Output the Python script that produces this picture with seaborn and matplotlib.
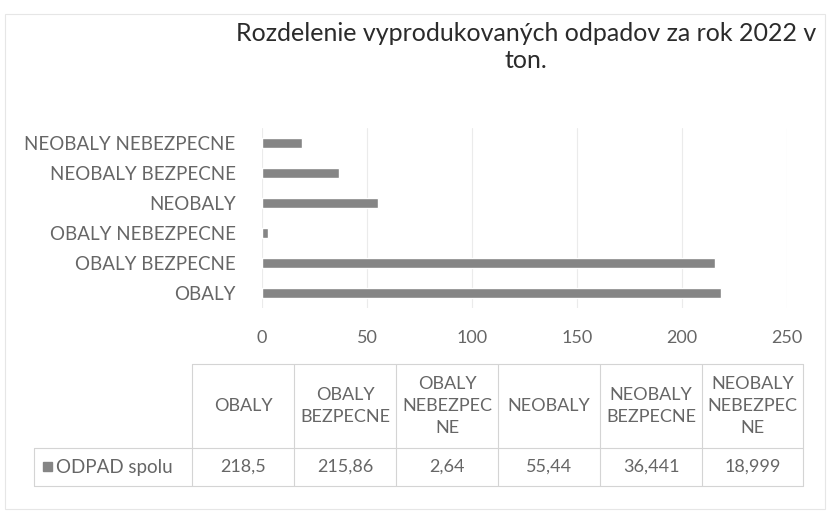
import matplotlib
matplotlib.use("Agg")
import matplotlib.pyplot as plt
from matplotlib.lines import Line2D
from matplotlib.patches import Rectangle
import pandas as pd
import seaborn as sns

# data
categories = ['OBALY', 'OBALY BEZPECNE', 'OBALY NEBEZPECNE', 'NEOBALY',
              'NEOBALY BEZPECNE', 'NEOBALY NEBEZPECNE']
values = [218.5, 215.86, 2.64, 55.44, 36.441, 18.999]
table_headers = ['OBALY', 'OBALY\nBEZPECNE', 'OBALY\nNEBEZPEC\nNE', 'NEOBALY',
                 'NEOBALY\nBEZPECNE', 'NEOBALY\nNEBEZPEC\nNE']
series_name = 'ODPAD spolu'
title = 'Rozdelenie vyprodukovaných odpadov za rok 2022 v\nton.'
x_ticks = [0, 50, 100, 150, 200, 250]

sns.set_style('white')
plt.rcParams['font.family'] = ['Lato', 'DejaVu Sans']

W, H = 827, 514
fig = plt.figure(figsize=(W / 100, H / 100), dpi=100)

def fx(x):
    return x / W

def fy(y):
    return 1 - y / H

bar_color = '#858585'
text_color = '#666666'
line_color = '#d4d4d4'

df = pd.DataFrame({'cat': categories, 'val': values})

ax = fig.add_axes([fx(262), fy(308), fx(787) - fx(262), fy(128) - fy(308)])
sns.barplot(data=df, x='val', y='cat', order=categories[::-1], orient='h',
            color=bar_color, width=0.34, saturation=1, ax=ax)
ax.set_xlim(0, 250)
ax.set_xticks(x_ticks)
ax.set_xlabel('')
ax.set_ylabel('')
for s in ax.spines.values():
    s.set_visible(False)
ax.grid(axis='x', color='#ebebeb', linewidth=0.8)
ax.set_axisbelow(True)
ax.tick_params(axis='y', length=0, pad=19, labelsize=13.5, labelcolor=text_color)
ax.tick_params(axis='x', length=0, pad=16, labelsize=13, labelcolor=text_color)

fig.text(fx(526), fy(47), title, ha='center', va='center', fontsize=18,
         color='#2b2b2b', linespacing=1.2)

# data table under the chart
col_edges = [192, 294, 396, 498, 600, 702, 803]
row_top, row_mid, row_bot = 364, 448, 486
label_left = 34

def hline(x0, x1, y):
    fig.add_artist(Line2D([fx(x0), fx(x1)], [fy(y), fy(y)], color=line_color, lw=0.8))

def vline(x, y0, y1):
    fig.add_artist(Line2D([fx(x), fx(x)], [fy(y0), fy(y1)], color=line_color, lw=0.8))

hline(col_edges[0], col_edges[-1], row_top)
hline(label_left, col_edges[-1], row_mid)
hline(label_left, col_edges[-1], row_bot)
vline(label_left, row_mid, row_bot)
for x in col_edges:
    vline(x, row_top, row_bot)

for i, (hdr, v) in enumerate(zip(table_headers, values)):
    cx = (col_edges[i] + col_edges[i + 1]) / 2
    fig.text(fx(cx), fy((row_top + row_mid) / 2), hdr, ha='center', va='center',
             fontsize=13, color=text_color, linespacing=1.45)
    fig.text(fx(cx), fy((row_mid + row_bot) / 2), str(v).replace('.', ','),
             ha='center', va='center', fontsize=13, color=text_color)

fig.add_artist(Rectangle((fx(43), fy(471)), fx(9), fy(462) - fy(471), color=bar_color))
fig.text(fx(56), fy((row_mid + row_bot) / 2), series_name, ha='left', va='center',
         fontsize=13.5, color=text_color)

# light frame around the chart area
fig.add_artist(Rectangle((fx(5), fy(509)), fx(820), fy(14) - fy(509), fill=False,
                         edgecolor='#e6e6e6', lw=0.8))

fig.savefig('out.png', dpi=100, facecolor='white')
